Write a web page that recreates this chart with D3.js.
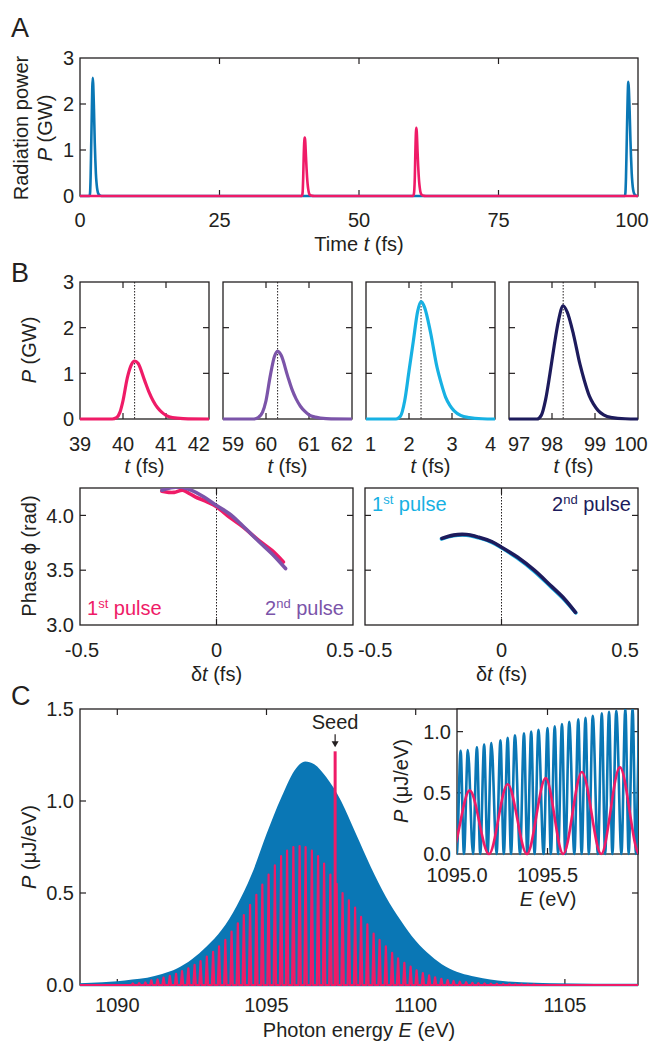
<!DOCTYPE html>
<html>
<head>
<meta charset="utf-8">
<script src="https://cdn.jsdelivr.net/npm/d3@7"></script>
<style>
body { margin: 0; background: #fff; }
text { font-family: 'Liberation Sans', Arial, Helvetica, sans-serif; fill: #231f20; }
</style>
</head>
<body>
<div id="chart"></div>
<script>
// ---- data ----

// B (top row): the four pulses, time (fs) and power (GW)
const pulse1T = [39.0, 39.75, 39.85, 39.93, 40.0, 40.1, 40.2, 40.27, 40.35, 40.5, 40.6, 40.7, 40.8, 40.9, 41.0, 41.15, 41.4, 42.0];
const pulse1P = [0, 0, 0.03, 0.15, 0.40, 0.90, 1.20, 1.27, 1.22, 0.85, 0.60, 0.40, 0.25, 0.15, 0.08, 0.03, 0.01, 0];
const pulse2T = [59.0, 59.72, 59.83, 59.92, 60.0, 60.1, 60.2, 60.27, 60.35, 60.5, 60.6, 60.7, 60.8, 60.9, 61.0, 61.15, 61.4, 62.0];
const pulse2P = [0, 0, 0.04, 0.15, 0.40, 0.95, 1.38, 1.48, 1.40, 0.95, 0.66, 0.44, 0.28, 0.17, 0.09, 0.04, 0.01, 0];
const pulse3T = [1.0, 1.7, 1.8, 1.9, 2.0, 2.1, 2.2, 2.28, 2.36, 2.5, 2.65, 2.75, 2.85, 2.95, 3.05, 3.2, 3.4, 3.7, 4.0];
const pulse3P = [0, 0, 0.06, 0.40, 1.05, 1.70, 2.35, 2.57, 2.45, 1.90, 1.14, 0.78, 0.48, 0.30, 0.18, 0.08, 0.03, 0.005, 0];
const pulse4T = [97.0, 97.65, 97.75, 97.85, 97.95, 98.05, 98.15, 98.26, 98.35, 98.5, 98.65, 98.75, 98.87, 98.97, 99.07, 99.2, 99.4, 99.7, 100.0];
const pulse4P = [0, 0, 0.08, 0.42, 0.98, 1.60, 2.15, 2.48, 2.35, 1.85, 1.20, 0.85, 0.50, 0.32, 0.19, 0.09, 0.03, 0.005, 0];
const pulsePeakT = [40.27, 60.27, 2.28, 98.26];

// B (bottom row): phase (rad) against delta t (fs)
const phase1Dt = [-0.20, -0.175, -0.155, -0.124, -0.10, -0.078, -0.031, 0, 0.047, 0.094, 0.156, 0.203, 0.245];
const phase1Ph = [4.22, 4.21, 4.21, 4.23, 4.20, 4.17, 4.12, 4.08, 3.985, 3.90, 3.77, 3.68, 3.575];
const phase2Dt = [-0.20, -0.171, -0.132, -0.093, -0.047, 0, 0.047, 0.094, 0.156, 0.203, 0.253];
const phase2Ph = [4.23, 4.25, 4.26, 4.23, 4.17, 4.09, 4.015, 3.91, 3.76, 3.65, 3.515];
const phase3Dt = [-0.22, -0.176, -0.129, -0.083, -0.036, 0, 0.058, 0.12, 0.18, 0.23, 0.272];
const phase3Ph = [3.785, 3.815, 3.82, 3.795, 3.755, 3.705, 3.61, 3.49, 3.35, 3.23, 3.11];
const phase4Dt = [-0.218, -0.176, -0.129, -0.083, -0.036, 0, 0.058, 0.12, 0.18, 0.23, 0.271];
const phase4Ph = [3.79, 3.82, 3.825, 3.80, 3.76, 3.71, 3.62, 3.50, 3.36, 3.24, 3.115];

// C: spectrum of the single pulse (envelope, filled) and the pulse pair (fringe peaks)
const blueEnvE = [1088.75, 1089.5, 1090, 1090.5, 1091, 1091.5, 1092, 1092.5, 1093, 1093.5, 1094, 1094.5, 1095, 1095.5, 1096, 1096.3, 1096.6, 1097, 1097.5, 1098, 1098.5, 1099, 1099.5, 1100, 1100.5, 1101, 1101.5, 1102, 1102.5, 1103, 1104, 1105, 1106, 1107.45];
const blueEnvP = [0.01, 0.015, 0.02, 0.03, 0.04, 0.06, 0.09, 0.14, 0.21, 0.30, 0.43, 0.60, 0.82, 1.02, 1.18, 1.215, 1.20, 1.13, 1.00, 0.82, 0.64, 0.48, 0.35, 0.24, 0.16, 0.10, 0.065, 0.045, 0.03, 0.02, 0.012, 0.008, 0.006, 0.004];
const pinkPeakE = [1090.52, 1090.73, 1090.94, 1091.14, 1091.35, 1091.55, 1091.76, 1091.97, 1092.17, 1092.38,
  1092.59, 1092.79, 1093.00, 1093.21, 1093.41, 1093.62, 1093.83, 1094.04, 1094.24, 1094.45,
  1094.66, 1094.86, 1095.07, 1095.28, 1095.49, 1095.69, 1095.90, 1096.11, 1096.31, 1096.52,
  1096.73, 1096.93, 1097.14, 1097.35, 1097.55, 1097.76, 1097.97, 1098.17, 1098.38, 1098.59,
  1098.79, 1099.00, 1099.21, 1099.41, 1099.62, 1099.83, 1100.03, 1100.24, 1100.45, 1100.65,
  1100.86, 1101.07, 1101.27, 1101.48, 1101.69, 1101.90, 1102.10, 1102.31, 1102.52, 1102.72,
  1102.93, 1103.14, 1103.34, 1103.55, 1103.76, 1103.96];
const pinkPeakP = [0.008, 0.010, 0.014, 0.025, 0.03, 0.04, 0.05, 0.06, 0.075, 0.09,
  0.11, 0.13, 0.155, 0.18, 0.21, 0.245, 0.29, 0.335, 0.38, 0.435,
  0.49, 0.545, 0.60, 0.65, 0.70, 0.73, 0.75, 0.755, 0.75, 0.73,
  0.70, 0.66, 0.60, 0.55, 0.50, 0.46, 0.42, 0.37, 0.33, 0.28,
  0.245, 0.21, 0.175, 0.145, 0.12, 0.10, 0.08, 0.065, 0.052, 0.042,
  0.034, 0.027, 0.022, 0.018, 0.015, 0.012, 0.010, 0.008, 0.007, 0.006,
  0.005, 0.004, 0.003, 0.003, 0.002, 0.002];
const pinkHalfPeriod = 0.1034;   // eV, half the fringe spacing of the pulse pair
const pinkSpikeHalf = 0.04;      // eV, half width of a fringe as it shows at this scale
const seedE = 1097.30, seedP = 1.27;

// C inset: fringe peaks between 1095 and 1096 eV
const insetBlueE = [1094.98, 1095.02, 1095.06, 1095.11, 1095.15, 1095.19, 1095.24, 1095.28, 1095.32, 1095.37, 1095.41, 1095.45, 1095.50,
  1095.54, 1095.58, 1095.62, 1095.67, 1095.71, 1095.75, 1095.80, 1095.84, 1095.88, 1095.93, 1095.97, 1096.01, 1096.05];
const insetBlueP = [0.83, 0.843, 0.849, 0.871, 0.894, 0.906, 0.929, 0.949, 0.971, 0.986, 1.0, 1.014, 1.029,
  1.043, 1.063, 1.08, 1.10, 1.114, 1.129, 1.149, 1.163, 1.17, 1.186, 1.19, 1.20, 1.21];
const insetBlueHalf = 0.0215;
const insetPinkE = [1094.86, 1095.07, 1095.28, 1095.49, 1095.69, 1095.90, 1096.11];
const insetPinkP = [0.47, 0.52, 0.57, 0.62, 0.67, 0.71, 0.75];

// ticks
const aXTicks = [0, 25, 50, 75, 100], aYTicks = [0, 1, 2, 3];
const bXTicks = [[39, 40, 41, 42], [59, 60, 61, 62], [1, 2, 3, 4], [97, 98, 99, 100]];
const bYTicks = [0, 1, 2, 3];
const phXTicks = [-0.5, 0, 0.5], phYTicks = [3.0, 3.5, 4.0];
const cXTicks = [1090, 1095, 1100, 1105], cYTicks = [0, 0.5, 1.0, 1.5];
const inXTicks = [1095.0, 1095.5], inYTicks = [0, 0.5, 1.0];

// colours
const BLUE = "#0a77b5", PINK = "#ef1b67", PURPLE = "#7b54a9", CYAN = "#17b1e3", NAVY = "#1d1b5c";

// ---- drawing ----
const svg = d3.select("#chart").append("svg").attr("width", 666).attr("height", 1041);
const FS = 20;
let clipId = 0;

function zip(a, b) { return a.map((v, i) => [v, b[i]]); }

function makePanel(p) {
  const x = d3.scaleLinear().domain(p.xDom).range([p.x0, p.x0 + p.w]);
  const y = d3.scaleLinear().domain(p.yDom).range([p.y0 + p.h, p.y0]);
  const g = svg.append("g");
  if (p.bg) g.append("rect").attr("x", p.x0).attr("y", p.y0).attr("width", p.w).attr("height", p.h).attr("fill", "#fff");
  const id = "clip" + (clipId++);
  svg.append("clipPath").attr("id", id).append("rect")
    .attr("x", p.x0).attr("y", p.y0).attr("width", p.w).attr("height", p.h + 3);
  const inner = (d, dom) => d > Math.min(...dom) + 1e-9 && d < Math.max(...dom) - 1e-9;
  const tl = 6;
  // inward ticks on all four sides
  p.xTicks.filter(d => inner(d, p.xDom)).forEach(d => {
    g.append("line").attr("x1", x(d)).attr("x2", x(d)).attr("y1", p.y0 + p.h).attr("y2", p.y0 + p.h - tl);
    g.append("line").attr("x1", x(d)).attr("x2", x(d)).attr("y1", p.y0).attr("y2", p.y0 + tl);
  });
  p.yTicks.filter(d => inner(d, p.yDom)).forEach(d => {
    g.append("line").attr("x1", p.x0).attr("x2", p.x0 + tl).attr("y1", y(d)).attr("y2", y(d));
    g.append("line").attr("x1", p.x0 + p.w).attr("x2", p.x0 + p.w - tl).attr("y1", y(d)).attr("y2", y(d));
  });
  g.selectAll("line").attr("stroke", "#231f20").attr("stroke-width", 1.2);
  g.append("rect").attr("x", p.x0).attr("y", p.y0).attr("width", p.w).attr("height", p.h)
    .attr("fill", "none").attr("stroke", "#231f20").attr("stroke-width", 1.3);
  // tick labels
  const xf = p.xFmt || (d => d), yf = p.yFmt || (d => d);
  p.xTicks.forEach((d, i) => {
    let anchor = "middle", dx = 0;
    if (i === 0 && p.leftAnchor) { anchor = p.leftAnchor; dx = p.leftDx || 0; }
    if (i === p.xTicks.length - 1 && p.rightAnchor) { anchor = p.rightAnchor; dx = p.rightDx || 0; }
    g.append("text").attr("x", x(d) + dx).attr("y", p.y0 + p.h + p.xLabOff)
      .attr("text-anchor", anchor).attr("font-size", FS).text(xf(d));
  });
  if (p.showY !== false) {
    p.yTicks.forEach(d => {
      g.append("text").attr("x", p.x0 - 6).attr("y", y(d)).attr("dy", "0.36em")
        .attr("text-anchor", "end").attr("font-size", FS).text(yf(d));
    });
  }
  const plot = svg.append("g").attr("clip-path", `url(#${id})`);
  return { x, y, g, plot };
}

function addText(parts, x, y, opts) {
  opts = opts || {};
  const t = svg.append("text").attr("font-size", opts.size || FS)
    .attr("text-anchor", opts.anchor || "middle");
  if (opts.rotate) t.attr("transform", `translate(${x},${y}) rotate(-90)`);
  else t.attr("x", x).attr("y", y);
  if (opts.fill) t.style("fill", opts.fill);
  parts.forEach(pt => {
    const s = t.append("tspan").text(pt.t);
    if (pt.i) s.attr("font-style", "italic");
    if (pt.sup) s.attr("font-size", 13).attr("dy", -7);
    if (pt.down) s.attr("dy", 7);
    if (opts.fill) s.style("fill", opts.fill);
  });
  return t;
}

const line = (sx, sy, curve) => d3.line().x(d => sx(d[0])).y(d => sy(d[1])).curve(curve || d3.curveMonotoneX);

// ---------- Panel A ----------
const A = makePanel({ x0: 80, y0: 58, w: 558, h: 138, xDom: [0, 100], yDom: [0, 3],
  xTicks: aXTicks, yTicks: aYTicks, xLabOff: 31, rightAnchor: "middle", rightDx: -6 });
const aBlue = [[0, 0]].concat(zip(pulse3T, pulse3P), zip(pulse4T, pulse4P));
const aPink = [[0, 0]].concat(zip(pulse1T, pulse1P), zip(pulse2T, pulse2P), [[100, 0]]);
A.plot.append("path").attr("d", line(A.x, A.y)(aBlue)).attr("fill", "none").attr("stroke", BLUE).attr("stroke-width", 2.6);
A.plot.append("path").attr("d", line(A.x, A.y)(aPink)).attr("fill", "none").attr("stroke", PINK).attr("stroke-width", 2.6);
addText([{ t: "A" }], 11, 37, { size: 27, anchor: "start" });
addText([{ t: "Radiation power" }], 28, 128, { rotate: true });
addText([{ t: "P", i: true }, { t: " (GW)" }], 52, 128, { rotate: true });
addText([{ t: "Time " }, { t: "t", i: true }, { t: " (fs)" }], 359, 251);

// ---------- Panel B, top row ----------
const bPulses = [[pulse1T, pulse1P, PINK], [pulse2T, pulse2P, PURPLE], [pulse3T, pulse3P, CYAN], [pulse4T, pulse4P, NAVY]];
const bLefts = [80, 223, 366, 509];
bPulses.forEach((pl, k) => {
  const P = makePanel({ x0: bLefts[k], y0: 282, w: 129, h: 137, xDom: [bXTicks[k][0], bXTicks[k][3]], yDom: [0, 3],
    xTicks: bXTicks[k], yTicks: bYTicks, xLabOff: 32, showY: k === 0,
    leftAnchor: k === 0 ? "middle" : "start", leftDx: k === 0 ? 0 : -1,
    rightAnchor: k === 3 ? "middle" : "end", rightDx: k === 3 ? -7 : 1 });
  P.plot.append("line").attr("x1", P.x(pulsePeakT[k])).attr("x2", P.x(pulsePeakT[k]))
    .attr("y1", P.y(3)).attr("y2", P.y(0)).attr("stroke", "#231f20").attr("stroke-width", 1).attr("stroke-dasharray", "1.5,1.5");
  P.plot.append("path").attr("d", line(P.x, P.y)(zip(pl[0], pl[1]))).attr("fill", "none")
    .attr("stroke", pl[2]).attr("stroke-width", 3.2).attr("stroke-linejoin", "round");
  addText([{ t: "t", i: true }, { t: " (fs)" }], bLefts[k] + 64.5, 473);
});
addText([{ t: "B" }], 11, 282, { size: 27, anchor: "start" });
addText([{ t: "P", i: true }, { t: " (GW)" }], 36, 350, { rotate: true });

// ---------- Panel B, bottom row ----------
const phasePanels = [
  { x0: 80, curves: [[phase1Dt, phase1Ph, PINK], [phase2Dt, phase2Ph, PURPLE]] },
  { x0: 365, curves: [[phase3Dt, phase3Ph, CYAN], [phase4Dt, phase4Ph, NAVY]] }
];
phasePanels.forEach((pp, k) => {
  const P = makePanel({ x0: pp.x0, y0: 488, w: 273, h: 137, xDom: [-0.5, 0.5], yDom: [3.0, 4.25],
    xTicks: phXTicks, yTicks: phYTicks, xLabOff: 32, showY: k === 0, yFmt: d3.format(".1f"),
    leftAnchor: k === 0 ? "middle" : "start", leftDx: k === 0 ? 2 : -7, rightAnchor: "end", rightDx: 1 });
  P.plot.append("line").attr("x1", P.x(0)).attr("x2", P.x(0)).attr("y1", P.y(4.25)).attr("y2", P.y(3.0))
    .attr("stroke", "#231f20").attr("stroke-width", 1).attr("stroke-dasharray", "1.5,1.5");
  pp.curves.forEach(c => {
    P.plot.append("path").attr("d", line(P.x, P.y, d3.curveCatmullRom)(zip(c[0], c[1]))).attr("fill", "none")
      .attr("stroke", c[2]).attr("stroke-width", 3.6).attr("stroke-linecap", "round").attr("stroke-linejoin", "round");
  });
  addText([{ t: "δ" }, { t: "t", i: true }, { t: " (fs)" }], pp.x0 + 136.5, 681);
});
addText([{ t: "1" }, { t: "st", sup: true }, { t: " pulse", down: true }], 87, 615, { anchor: "start", fill: PINK });
addText([{ t: "2" }, { t: "nd", sup: true }, { t: " pulse", down: true }], 344, 615, { anchor: "end", fill: PURPLE });
addText([{ t: "1" }, { t: "st", sup: true }, { t: " pulse", down: true }], 372, 511, { anchor: "start", fill: CYAN });
addText([{ t: "2" }, { t: "nd", sup: true }, { t: " pulse", down: true }], 631, 511, { anchor: "end", fill: NAVY });
addText([{ t: "Phase ϕ (rad)" }], 36, 556, { rotate: true });

// ---------- Panel C ----------
const C = makePanel({ x0: 80, y0: 709, w: 558, h: 276, xDom: [1088.75, 1107.45], yDom: [0, 1.5],
  xTicks: cXTicks, yTicks: cYTicks, xLabOff: 27, yFmt: d3.format(".1f") });
const blueArea = d3.area().x(d => C.x(d[0])).y0(C.y(0)).y1(d => C.y(d[1])).curve(d3.curveMonotoneX);
C.plot.append("path").attr("d", blueArea(zip(blueEnvE, blueEnvP))).attr("fill", BLUE);
C.plot.append("line").attr("x1", C.x(1088.75)).attr("x2", C.x(1107.45)).attr("y1", C.y(0)).attr("y2", C.y(0))
  .attr("stroke", BLUE).attr("stroke-width", 2.5);
// pink fringes: a narrow spike at each fringe peak, back to zero in between
const pinkPts = [[1088.75, 0]];
pinkPeakE.forEach((e, i) => {
  pinkPts.push([e - pinkSpikeHalf, 0]); pinkPts.push([e, pinkPeakP[i]]); pinkPts.push([e + pinkSpikeHalf, 0]);
});
pinkPts.push([1107.45, 0]);
C.plot.append("path").attr("d", d3.line().x(d => C.x(d[0])).y(d => C.y(d[1]))(pinkPts)).attr("fill", "none")
  .attr("stroke", PINK).attr("stroke-width", 2.2).attr("stroke-linejoin", "round");
C.plot.append("line").attr("x1", C.x(seedE)).attr("x2", C.x(seedE)).attr("y1", C.y(0)).attr("y2", C.y(seedP))
  .attr("stroke", PINK).attr("stroke-width", 3);
// seed label and arrow
addText([{ t: "Seed" }], C.x(seedE), C.y(seedP) - 22);
svg.append("line").attr("x1", C.x(seedE)).attr("x2", C.x(seedE)).attr("y1", C.y(seedP) - 17).attr("y2", C.y(seedP) - 8)
  .attr("stroke", "#231f20").attr("stroke-width", 1.2);
svg.append("path").attr("d", `M${C.x(seedE) - 3.5},${C.y(seedP) - 10}L${C.x(seedE) + 3.5},${C.y(seedP) - 10}L${C.x(seedE)},${C.y(seedP) - 4}Z`)
  .attr("fill", "#231f20");
addText([{ t: "C" }], 11, 705, { size: 27, anchor: "start" });
addText([{ t: "P", i: true }, { t: " (μJ/eV)" }], 36, 847, { rotate: true });
addText([{ t: "Photon energy " }, { t: "E", i: true }, { t: " (eV)" }], 359, 1037);

// ---------- Inset ----------
const I = makePanel({ x0: 457, y0: 709, w: 181, h: 145, xDom: [1095.0, 1096.0], yDom: [0, 1.185], bg: true,
  xTicks: inXTicks, yTicks: inYTicks, xLabOff: 28, xFmt: d3.format(".1f"), yFmt: d3.format(".1f") });
const inBluePts = [];
insetBlueE.forEach((e, i) => { inBluePts.push([e - insetBlueHalf, 0]); inBluePts.push([e, insetBlueP[i]]); });
I.plot.append("path").attr("d", line(I.x, I.y)(inBluePts)).attr("fill", "none")
  .attr("stroke", BLUE).attr("stroke-width", 2.6).attr("stroke-linejoin", "round");
const inPinkPts = [];
insetPinkE.forEach((e, i) => { inPinkPts.push([e - pinkHalfPeriod, 0]); inPinkPts.push([e, insetPinkP[i]]); });
inPinkPts.push([insetPinkE[insetPinkE.length - 1] + pinkHalfPeriod, 0]);
I.plot.append("path").attr("d", line(I.x, I.y)(inPinkPts)).attr("fill", "none")
  .attr("stroke", PINK).attr("stroke-width", 2.6);
addText([{ t: "P", i: true }, { t: " (μJ/eV)" }], 408, 781, { rotate: true });
addText([{ t: "E", i: true }, { t: " (eV)" }], 548, 906);
</script>
</body>
</html>
